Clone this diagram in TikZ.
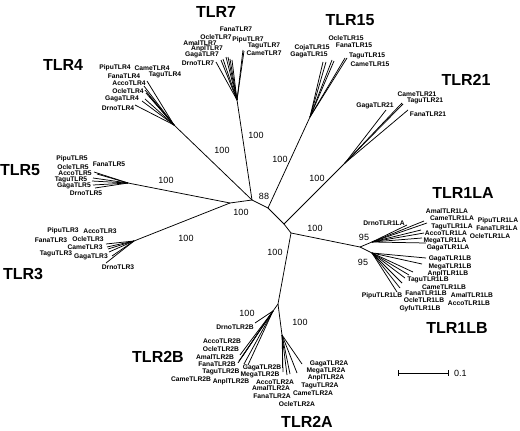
\documentclass[tikz,border=0pt]{standalone}
\usepackage{fontspec}
\setmainfont{Liberation Sans}
\usepackage{tikz}

\begin{document}
\begin{tikzpicture}[x=1pt,y=-1pt,line join=round,
  twig/.style={line width=0.75pt},
  leaf/.style={font=\fontsize{6.7}{7}\selectfont\bfseries,inner sep=0pt},
  clade/.style={font=\fontsize{16}{16}\selectfont\bfseries,inner sep=0pt},
  boot/.style={font=\fontsize{9}{9}\selectfont,inner sep=0pt}]
  \useasboundingbox (0,0) rectangle (520,431);
  % backbone
  \coordinate (jA) at (252,200); \coordinate (jB) at (230,203);
  \coordinate (jC) at (268,208); \coordinate (jD) at (284,224);
  \coordinate (jE) at (291,233);
  \coordinate (c7) at (237,100); \coordinate (c4) at (174,125);
  \coordinate (c5) at (128,183); \coordinate (c3) at (134,241);
  \coordinate (c15) at (310,117); \coordinate (c21) at (345,163);
  \coordinate (c1L) at (360,247); \coordinate (c1LA) at (372,242);
  \coordinate (c1LB) at (372,253); \coordinate (c2) at (278,304);
  \coordinate (c2B) at (273,311); \coordinate (c2A) at (282,335);
  \foreach \a/\b in {jB/jA,jA/c7,jA/c4,jA/jC,jC/c15,jC/jD,jD/c21,jD/jE,jE/c1L,jE/c2,
                     jB/c5,jB/c3,c1L/c1LA,c1L/c1LB,c2/c2B,c2/c2A}
    \draw[twig] (\a) -- (\b);
  % tips
  \foreach \x/\y [count=\i] in {216/62,221/60,223/59,226/57,228/57,230/59,232/60,243/50,244/51}
    {\coordinate (t7-\i) at (\x,\y); \draw[twig] (c7) -- (t7-\i);}
  \foreach \x/\y [count=\i] in {147/81,144/86,145/90,146/93,149/96,145/99,142/101,135/105}
    {\coordinate (t4-\i) at (\x,\y); \draw[twig] (c4) -- (t4-\i);}
  \foreach \x/\y [count=\i] in {94/172,97/174,93/178,92/181,93/185,95/188}
    {\coordinate (t5-\i) at (\x,\y); \draw[twig] (c5) -- (t5-\i);}
  \foreach \x/\y [count=\i] in {106/244,107/247,108/249,109/252,112/256,106/263}
    {\coordinate (t3-\i) at (\x,\y); \draw[twig] (c3) -- (t3-\i);}
  \foreach \x/\y [count=\i] in {323/62,326/62,332/60,334/61,345/58,347/58}
    {\coordinate (t15-\i) at (\x,\y); \draw[twig] (c15) -- (t15-\i);}
  \foreach \x/\y [count=\i] in {386/110,402/103,403/104,408/110}
    {\coordinate (t21-\i) at (\x,\y); \draw[twig] (c21) -- (t21-\i);}
  \foreach \x/\y [count=\i] in {407/225,424/221,427/223,421/230,424/233,422/238,426/243}
    {\coordinate (tLA-\i) at (\x,\y); \draw[twig] (c1LA) -- (tLA-\i);}
  \foreach \x/\y [count=\i] in {426/258,422/264,413/272,409/275,405/278,402/283,400/288,397/292}
    {\coordinate (tLB-\i) at (\x,\y); \draw[twig] (c1LB) -- (tLB-\i);}
  \foreach \x/\y [count=\i] in {255/323,240/355,242/357,239/361,238/363,244/364,248/365}
    {\coordinate (t2B-\i) at (\x,\y); \draw[twig] (c2B) -- (t2B-\i);}
  \foreach \x/\y [count=\i] in {282/368,283/372,287/375,290/374,297/373,302/364}
    {\coordinate (t2A-\i) at (\x,\y); \draw[twig] (c2A) -- (t2A-\i);}
  % support values
  \foreach \v/\x/\y [count=\i] in {100/256/135,100/222/150,100/241/212,100/166/180,100/186/238,
      88/264/196,100/280/159,100/317/178,100/315/228,100/275/252,95/364/237,95/363/262,
      100/247/313,100/300/322}
    \node[boot] (b\i) at (\x,\y) {\v};
  % group names
  \foreach \n/\x/\y in {TLR7/216/12,TLR4/63/65,TLR5/20/170,TLR3/23/274,TLR15/350/20,
      TLR21/466/80,TLR1LA/463/193,TLR1LB/457/328,TLR2B/158/357,TLR2A/307/422}
    \node[clade] (g\n) at (\x,\y) {\n};
  % leaf names
  \foreach \n/\x/\y in {FanaTLR7/236/29,OcleTLR7/216/37,PipuTLR7/248/40,AmalTLR7/200/43,
      TaguTLR7/264/46,AnplTLR7/207/49,CameTLR7/264/53.5,GagaTLR7/202/55,DrnoTLR7/198/63,
      PipuTLR4/115/68,CameTLR4/152/68,FanaTLR4/124/76,TaguTLR4/165/75,AccoTLR4/129/83,
      OcleTLR4/128/91,GagaTLR4/122/99,DrnoTLR4/118/108,
      PipuTLR5/72/159,FanaTLR5/109/164,OcleTLR5/73/167,AccoTLR5/75/173,TaguTLR5/71/180,
      GagaTLR5/74/186,DrnoTLR5/86/193,
      PipuTLR3/63/231,AccoTLR3/100/231,FanaTLR3/51/240,OcleTLR3/88/239,CameTLR3/85/247,
      TaguTLR3/56/254,GagaTLR3/91/257,DrnoTLR3/118/267,
      OcleTLR15/346/38,CojaTLR15/312/48,FanaTLR15/354/45,GagaTLR15/309/55,
      TaguTLR15/367/56,CameTLR15/370/64,
      CameTLR21/417/94,TaguTLR21/425/101,GagaTLR21/375/106,FanaTLR21/428/114,
      AmalTLR1LA/447/211.5,CameTLR1LA/452/218.5,PipuTLR1LA/498/221,DrnoTLR1LA/384/223,
      TaguTLR1LA/452/226.5,FanaTLR1LA/497/228,AccoTLR1LA/446/233.5,OcleTLR1LA/490/236,
      MegaTLR1LA/445/241,GagaTLR1LA/448/248,
      GagaTLR1LB/450/259,MegaTLR1LB/450/267,AnplTLR1LB/448/274,TaguTLR1LB/428/280,
      CameTLR1LB/444/287,FanaTLR1LB/426/293.5,AmalTLR1LB/472/295,PipuTLR1LB/382/296,
      OcleTLR1LB/424/300.5,AccoTLR1LB/469/303,GyfuTLR1LB/420/308.5,
      DrnoTLR2B/235/327,AccoTLR2B/222/341,OcleTLR2B/221/349,AmalTLR2B/215/357,
      FanaTLR2B/217/364,TaguTLR2B/221/372,CameTLR2B/191/379,AnplTLR2B/231/382,
      GagaTLR2B/262/368,MegaTLR2B/260/375,
      GagaTLR2A/329/364,MegaTLR2A/326/371,AnplTLR2A/326/378,TaguTLR2A/320/386,
      CameTLR2A/313/393,AccoTLR2A/275/382,AmalTLR2A/271/388,FanaTLR2A/272/396,
      OcleTLR2A/297/404}
    \node[leaf] (\n) at (\x,\y) {\n};
  % scale bar
  \coordinate (sbL) at (398,373); \coordinate (sbR) at (448,373);
  \draw[twig] (sbL) -- (sbR);
  \draw[twig] ([yshift=3pt]sbL) -- ([yshift=-3pt]sbL);
  \draw[twig] ([yshift=3pt]sbR) -- ([yshift=-3pt]sbR);
  \node[boot,anchor=west] (sbT) at (454,373) {0.1};
\end{tikzpicture}
\end{document}
